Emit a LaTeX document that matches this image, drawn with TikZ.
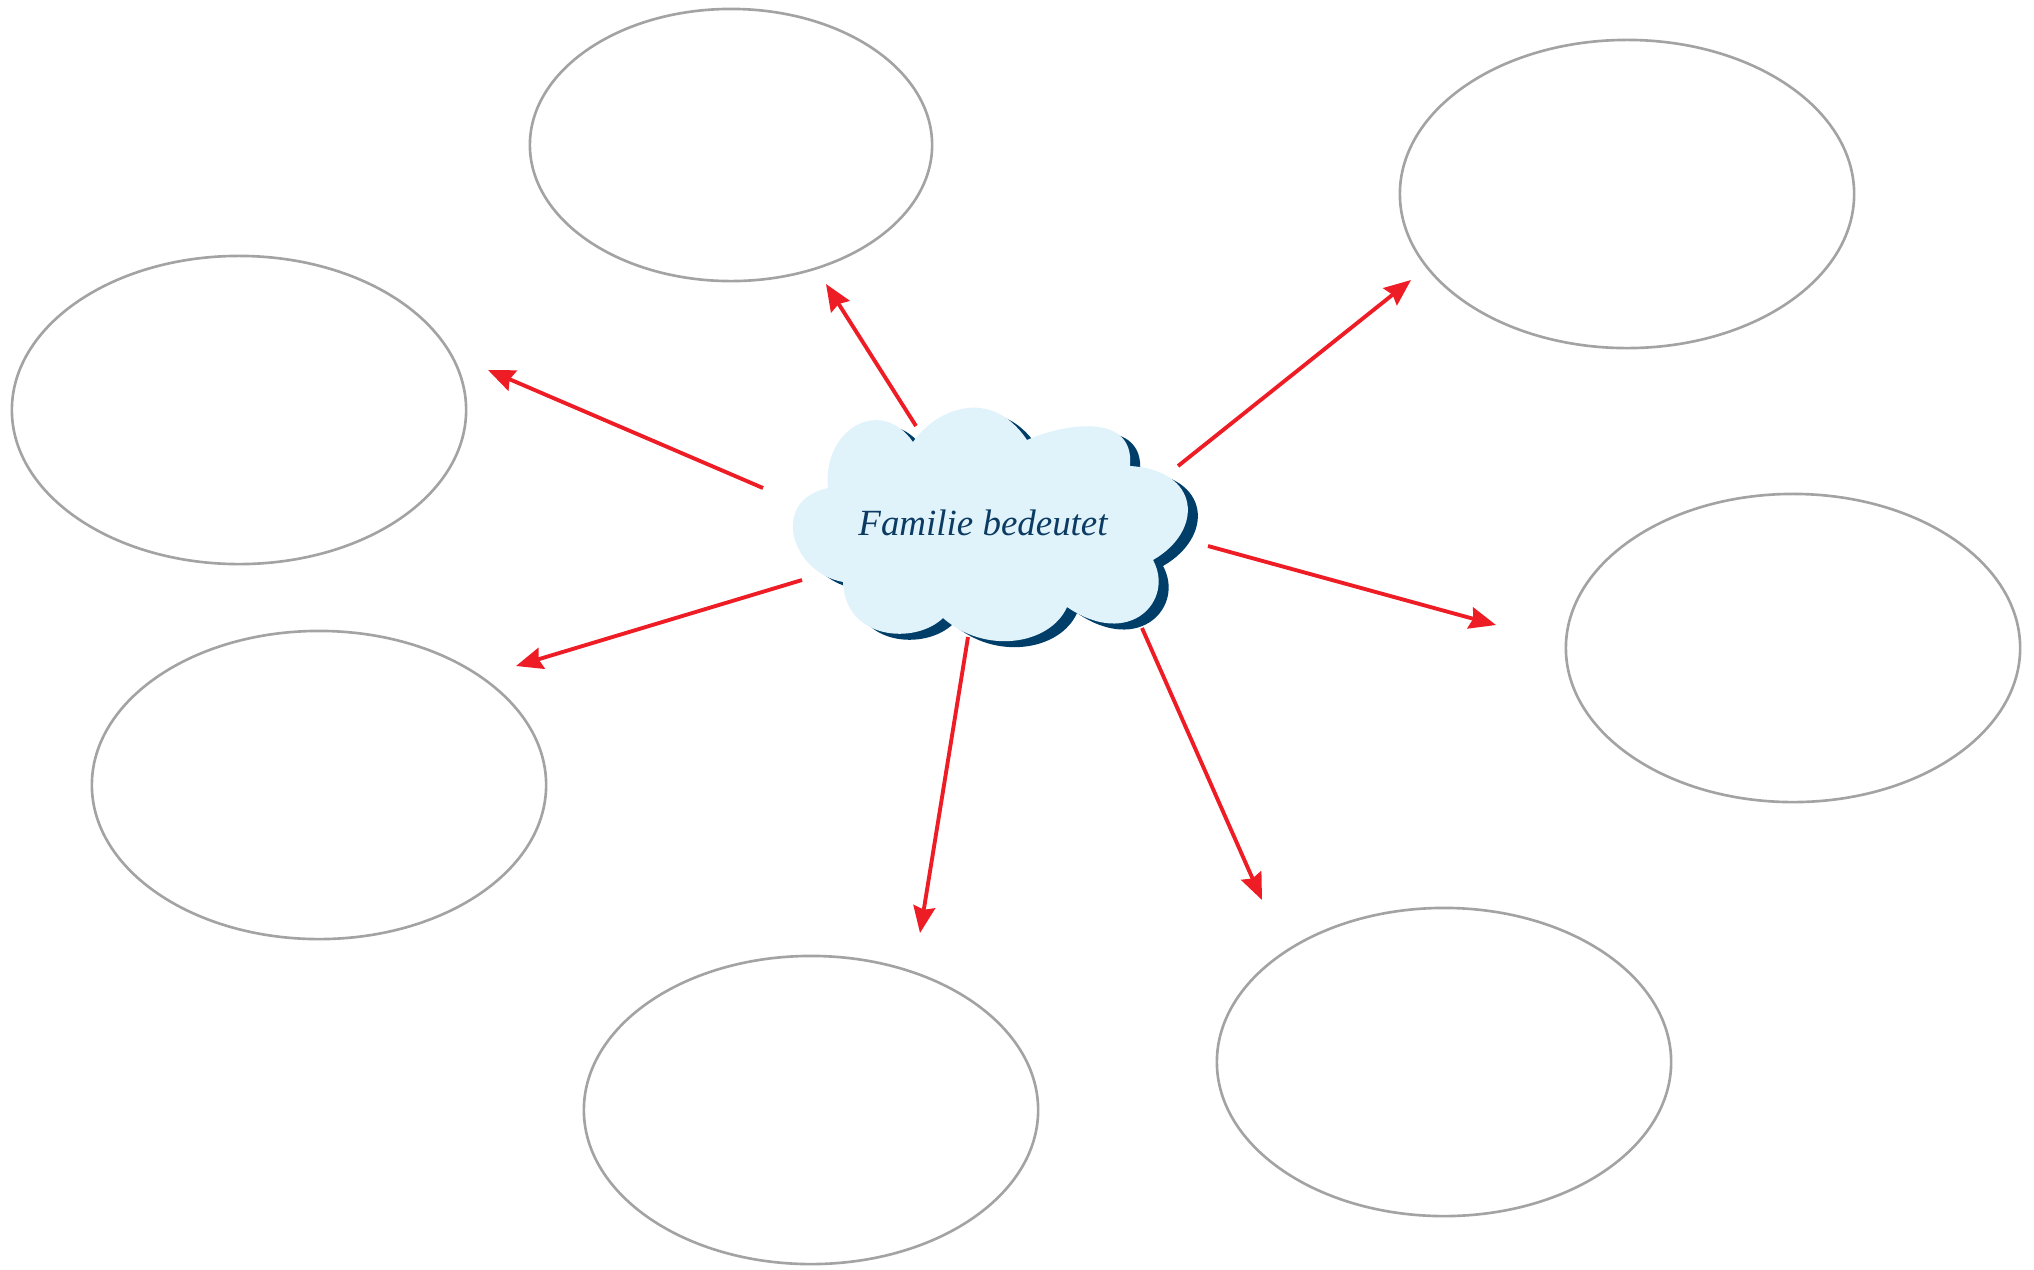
\documentclass[tikz,border=0pt]{standalone}
\usepackage{fontspec}
\setmainfont{Liberation Serif}
\usetikzlibrary{arrows.meta, positioning, shapes.geometric}

\definecolor{cloudfill}{HTML}{E0F2FA}
\definecolor{cloudshade}{HTML}{003E6A}
\definecolor{cloudtext}{HTML}{0B3A62}
\definecolor{arrowred}{HTML}{EE1C25}
\definecolor{bubblegray}{HTML}{A3A3A3}

\begin{document}
\begin{tikzpicture}[x=0.01cm, y=-0.01cm, >={Stealth[length=7.6pt, width=6.2pt, inset=0.9pt]}]
    % Styles
    \tikzstyle{bubble} = [ellipse, draw=bubblegray, line width=0.75pt, minimum width=4.54cm, minimum height=3.08cm, inner sep=0pt]
    \tikzstyle{smallbubble} = [bubble, minimum width=4.02cm, minimum height=2.72cm]
    \tikzstyle{line} = [draw=arrowred, line width=1.1pt, ->]
    \tikzstyle{label} = [font=\fontsize{10.5}{12}\selectfont\itshape, text=cloudtext, anchor=base]

    \useasboundingbox (0,0) rectangle (2034,1269);

    % Cloud with its shadow
    \def\cloudpath{(828,488) .. controls (822,430) and (880,395) .. (913,442)
        .. controls (935,410) and (990,385) .. (1027,440)
        .. controls (1060,425) and (1135,410) .. (1130,466)
        .. controls (1200,470) and (1205,530) .. (1153,560)
        .. controls (1175,600) and (1130,650) .. (1067,607)
        .. controls (1050,645) and (985,655) .. (943,618)
        .. controls (915,645) and (845,640) .. (843,582)
        .. controls (790,572) and (770,500) .. cycle}
    \fill[cloudshade, xshift=0.1cm, yshift=-0.06cm] \cloudpath;
    \fill[cloudfill] \cloudpath;
    \node[label] (center) at (983,535) {Familie bedeutet};

    % Nodes
    \node[smallbubble] (top) at (731,145) {};
    \node[bubble] (topright) at (1627,194) {};
    \node[bubble] (left) at (239,410) {};
    \node[bubble] (right) at (1793,648) {};
    \node[bubble] (lowleft) at (319,785) {};
    \node[bubble] (lowright) at (1444,1062) {};
    \node[bubble] (bottom) at (811,1110) {};

    % Arrow ends
    \coordinate (s1) at (916,426);  \coordinate (t1) at (826,284);
    \coordinate (s2) at (1178,466); \coordinate (t2) at (1411,280);
    \coordinate (s3) at (763,488);  \coordinate (t3) at (488,370);
    \coordinate (s4) at (1208,546); \coordinate (t4) at (1496,625);
    \coordinate (s5) at (802,580);  \coordinate (t5) at (516,666);
    \coordinate (s6) at (968,637);  \coordinate (t6) at (920,933);
    \coordinate (s7) at (1142,628); \coordinate (t7) at (1262,900);

    % Paths
    \foreach \i in {1,...,7}
        \path [line] (s\i) -- (t\i);

\end{tikzpicture}
\end{document}
